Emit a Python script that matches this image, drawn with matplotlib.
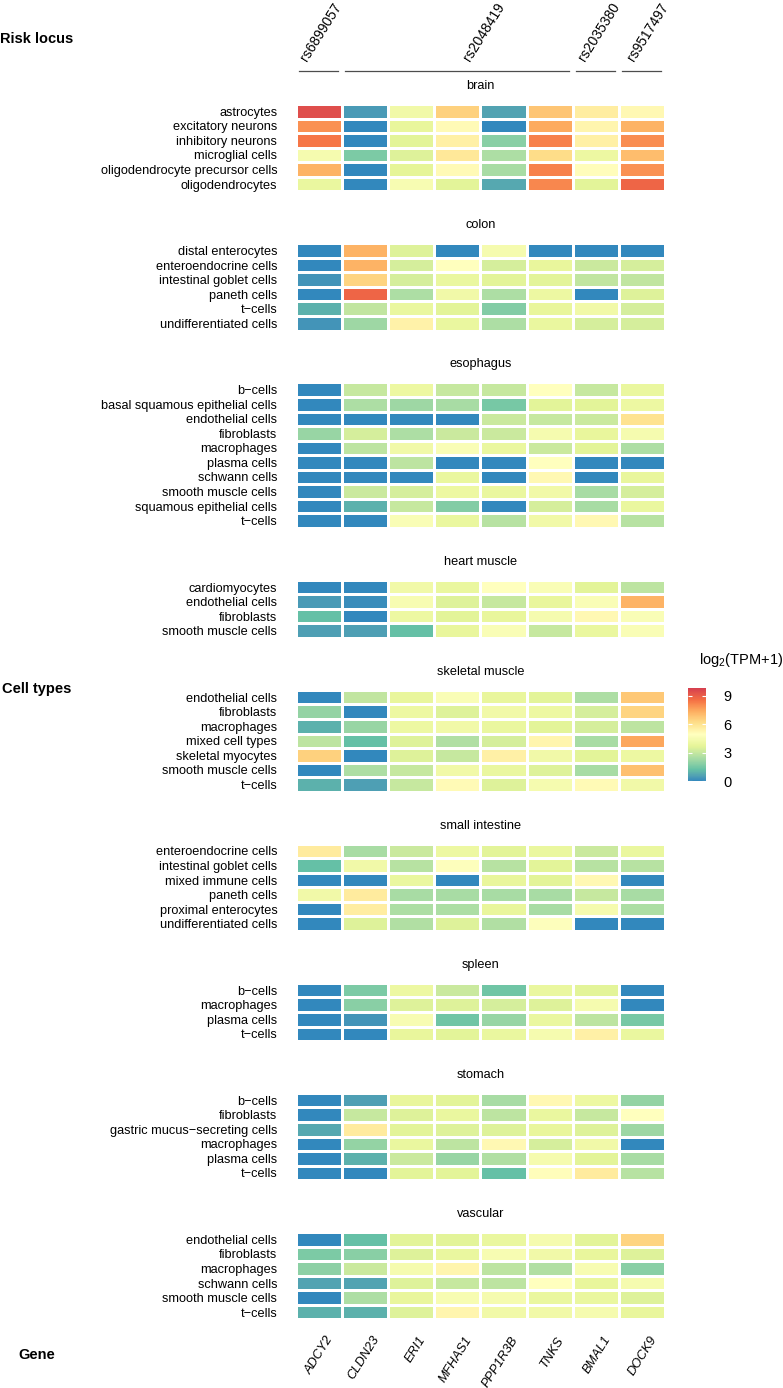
import numpy as np
import matplotlib
matplotlib.use("Agg")
import matplotlib.pyplot as plt
import matplotlib.transforms as mtransforms
from matplotlib.colors import ListedColormap, to_rgb

plt.rcParams['font.family'] = ['Liberation Sans', 'DejaVu Sans']
plt.rcParams['mathtext.default'] = 'regular'

# --- data ---
genes = ["ADCY2", "CLDN23", "ERI1", "MFHAS1", "PPP1R3B", "TNKS", "BMAL1", "DOCK9"]
loci = ["rs6899057", "rs2048419", "rs2035380", "rs9517497"]
locus_cols = [(0, 1), (1, 6), (6, 7), (7, 8)]   # gene column span of each locus

brain_cells = ["astrocytes", "excitatory neurons", "inhibitory neurons", "microglial cells",
               "oligodendrocyte precursor cells", "oligodendrocytes"]
brain_vals = [
    [9.4, 0.4, 4.2, 6.5, 0.6, 6.8, 5.6, 5.2],
    [7.9, 0.0, 3.8, 5.1, 0.0, 7.4, 5.3, 7.2],
    [8.4, 0.0, 3.6, 5.5, 1.8, 8.2, 5.5, 8.0],
    [4.4, 1.6, 3.5, 5.8, 2.5, 6.2, 4.0, 7.0],
    [7.2, 0.0, 3.7, 5.1, 2.4, 8.2, 5.0, 7.9],
    [3.9, 0.0, 4.5, 3.6, 0.7, 8.1, 3.6, 8.8],
]

colon_cells = ["distal enterocytes", "enteroendocrine cells", "intestinal goblet cells",
               "paneth cells", "t\u2212cells", "undifferentiated cells"]
colon_vals = [
    [0.0, 7.2, 3.5, 0.0, 4.4, 0.0, 0.0, 0.0],
    [0.0, 7.2, 3.3, 4.9, 3.3, 3.8, 3.1, 3.3],
    [0.3, 6.4, 3.3, 3.9, 3.6, 3.6, 2.9, 2.9],
    [0.0, 8.8, 2.5, 4.2, 2.5, 4.0, 0.0, 3.5],
    [0.9, 2.9, 3.9, 3.6, 1.7, 3.8, 4.2, 3.3],
    [0.3, 2.2, 5.4, 3.9, 2.5, 3.9, 3.3, 3.3],
]

esophagus_cells = ["b\u2212cells", "basal squamous epithelial cells", "endothelial cells", "fibroblasts",
                   "macrophages", "plasma cells", "schwann cells", "smooth muscle cells",
                   "squamous epithelial cells", "t\u2212cells"]
esophagus_vals = [
    [0.0, 3.0, 4.0, 3.0, 3.0, 4.9, 3.0, 3.9],
    [0.0, 2.5, 2.2, 2.4, 1.5, 3.6, 3.6, 4.0],
    [0.0, 0.0, 0.0, 0.0, 3.1, 3.0, 3.1, 6.0],
    [2.1, 3.3, 2.5, 3.1, 3.1, 4.4, 3.8, 4.4],
    [0.0, 2.8, 4.2, 4.6, 3.9, 3.1, 3.6, 2.5],
    [0.0, 0.0, 2.8, 0.0, 0.0, 4.9, 0.0, 0.0],
    [0.0, 0.0, 0.0, 3.9, 0.0, 5.2, 0.0, 3.8],
    [0.0, 3.1, 3.3, 4.0, 3.9, 4.2, 2.4, 3.3],
    [0.0, 0.9, 3.0, 1.7, 0.0, 3.3, 2.4, 3.9],
    [0.0, 0.0, 4.6, 3.9, 2.7, 4.2, 5.2, 2.7],
]

heart_cells = ["cardiomyocytes", "endothelial cells", "fibroblasts", "smooth muscle cells"]
heart_vals = [
    [0.0, 0.0, 4.2, 3.9, 4.9, 4.6, 3.6, 2.8],
    [0.4, 0.15, 4.5, 3.5, 3.0, 3.8, 4.6, 7.2],
    [1.2, 0.0, 4.0, 3.6, 3.8, 4.4, 5.2, 4.6],
    [0.5, 0.5, 1.2, 3.8, 4.6, 3.0, 3.9, 4.6],
]

skeletal_cells = ["endothelial cells", "fibroblasts", "macrophages", "mixed cell types",
                  "skeletal myocytes", "smooth muscle cells", "t\u2212cells"]
skeletal_vals = [
    [0.0, 2.9, 3.8, 4.6, 3.8, 3.6, 2.5, 6.7],
    [2.0, 0.0, 4.0, 3.5, 4.2, 4.0, 3.3, 6.4],
    [0.9, 2.1, 4.0, 4.2, 3.9, 3.6, 3.3, 2.8],
    [2.8, 1.2, 3.5, 2.6, 3.3, 5.3, 2.4, 7.5],
    [6.5, 0.0, 3.5, 3.0, 5.5, 4.2, 3.6, 4.0],
    [0.0, 2.5, 3.0, 4.2, 3.9, 3.5, 2.4, 6.9],
    [0.9, 0.5, 3.0, 5.1, 3.5, 4.4, 5.1, 4.2],
]

small_int_cells = ["enteroendocrine cells", "intestinal goblet cells", "mixed immune cells",
                   "paneth cells", "proximal enterocytes", "undifferentiated cells"]
small_int_vals = [
    [5.7, 2.4, 3.1, 4.0, 3.6, 3.9, 3.1, 3.9],
    [1.2, 4.2, 2.7, 4.8, 2.7, 3.6, 2.7, 2.7],
    [0.0, 0.0, 3.9, 0.0, 3.8, 3.6, 5.2, 0.0],
    [4.2, 5.7, 2.4, 2.4, 2.4, 2.4, 3.0, 2.4],
    [0.0, 5.6, 2.5, 2.5, 3.8, 2.4, 4.4, 2.5],
    [0.0, 3.5, 2.6, 3.5, 2.6, 4.8, 0.0, 0.0],
]

spleen_cells = ["b\u2212cells", "macrophages", "plasma cells", "t\u2212cells"]
spleen_vals = [
    [0.0, 1.6, 4.0, 3.1, 1.4, 3.9, 3.6, 0.0],
    [0.0, 1.8, 3.5, 3.5, 3.3, 3.5, 4.4, 0.0],
    [0.0, 0.3, 4.5, 1.4, 2.1, 3.9, 2.8, 1.5],
    [0.0, 0.0, 3.8, 3.6, 3.9, 4.4, 5.5, 3.9],
]

stomach_cells = ["b\u2212cells", "fibroblasts", "gastric mucus\u2212secreting cells", "macrophages",
                 "plasma cells", "t\u2212cells"]
stomach_vals = [
    [0.0, 0.5, 3.8, 3.6, 2.4, 5.2, 4.0, 2.0],
    [0.0, 3.0, 3.5, 3.9, 2.8, 3.9, 3.0, 4.9],
    [0.7, 5.7, 3.6, 3.5, 3.5, 3.8, 3.5, 2.2],
    [0.0, 2.0, 3.9, 2.8, 5.2, 3.3, 4.2, 0.0],
    [0.0, 0.9, 3.1, 2.1, 2.6, 4.4, 3.6, 2.4],
    [0.0, 0.0, 3.6, 3.6, 1.2, 5.0, 5.7, 2.7],
]

vascular_cells = ["endothelial cells", "fibroblasts", "macrophages", "schwann cells",
                  "smooth muscle cells", "t\u2212cells"]
vascular_vals = [
    [0.0, 1.2, 3.6, 3.6, 3.9, 4.4, 3.6, 6.4],
    [1.6, 1.8, 3.5, 3.9, 4.5, 4.2, 3.8, 3.5],
    [1.9, 3.1, 4.4, 5.3, 2.8, 2.6, 4.5, 1.8],
    [0.6, 0.6, 3.5, 3.0, 2.8, 4.9, 3.8, 4.4],
    [0.0, 2.5, 3.8, 4.5, 4.4, 3.9, 3.9, 3.5],
    [0.9, 0.9, 3.5, 5.3, 4.2, 4.2, 4.4, 3.8],
]

tissues = [
    ("brain", brain_cells, brain_vals),
    ("colon", colon_cells, colon_vals),
    ("esophagus", esophagus_cells, esophagus_vals),
    ("heart muscle", heart_cells, heart_vals),
    ("skeletal muscle", skeletal_cells, skeletal_vals),
    ("small intestine", small_int_cells, small_int_vals),
    ("spleen", spleen_cells, spleen_vals),
    ("stomach", stomach_cells, stomach_vals),
    ("vascular", vascular_cells, vascular_vals),
]

# --- layout (pixels) ---
W, H = 783, 1388
HM_LEFT, HM_WIDTH = 296, 369
ROW_H = 14.55
FIRST_TOP = 104
GAP = 51.9
VMIN, VMAX = 0, 9.8
FS = 9.2

ramp = ["#3288BD", "#66C2A5", "#ABDDA4", "#E6F598", "#FFFFBF",
        "#FEE08B", "#FDAE61", "#F46D43", "#D53E4F"]


# colour ramp interpolated in CIE Lab (like R's colorRamp2)
WHITE = np.array([0.95047, 1.0, 1.08883])
M = np.array([[0.4124, 0.3576, 0.1805],
              [0.2126, 0.7152, 0.0722],
              [0.0193, 0.1192, 0.9505]])


def to_lab(rgb):
    c = np.asarray(rgb, float)
    lin = np.where(c <= 0.04045, c / 12.92, ((c + 0.055) / 1.055) ** 2.4)
    xyz = M @ lin / WHITE
    f = np.where(xyz > 0.008856, np.cbrt(xyz), 7.787 * xyz + 16 / 116)
    return np.array([116 * f[1] - 16, 500 * (f[0] - f[1]), 200 * (f[1] - f[2])])


def from_lab(lab):
    fy = (lab[0] + 16) / 116
    fx = fy + lab[1] / 500
    fz = fy - lab[2] / 200
    f = np.array([fx, fy, fz])
    xyz = np.where(f ** 3 > 0.008856, f ** 3, (f - 16 / 116) / 7.787) * WHITE
    lin = np.linalg.solve(M, xyz)
    lin = np.clip(lin, 0, 1)
    c = np.where(lin <= 0.0031308, 12.92 * lin, 1.055 * lin ** (1 / 2.4) - 0.055)
    return np.clip(c, 0, 1)


labs = [to_lab(to_rgb(c)) for c in ramp]
cols = []
for t in np.linspace(0, 1, 256):
    pos = t * (len(ramp) - 1)
    i = min(int(pos), len(ramp) - 2)
    fr = pos - i
    cols.append(from_lab(labs[i] * (1 - fr) + labs[i + 1] * fr))
cmap = ListedColormap(cols)

fig = plt.figure(figsize=(W / 100, H / 100), dpi=100)

top = FIRST_TOP
axes = []
mesh = None
for name, cells, vals in tissues:
    n = len(cells)
    h = n * ROW_H
    ax = fig.add_axes([HM_LEFT / W, 1 - (top + h) / H, HM_WIDTH / W, h / H])
    mesh = ax.pcolormesh(np.array(vals), cmap=cmap, vmin=VMIN, vmax=VMAX,
                         edgecolors="white", linewidth=0.8)
    ax.set_xlim(0, len(genes))
    ax.set_ylim(n, 0)
    ax.set_yticks(np.arange(n) + 0.5)
    ax.set_yticklabels(cells, fontsize=FS)
    ax.set_xticks([])
    ax.tick_params(length=0, pad=13.5)
    for s in ax.spines.values():
        s.set_visible(False)
    ax.text(len(genes) / 2, -18 / ROW_H, name, ha="center", va="center",
            fontsize=FS, clip_on=False)
    axes.append(ax)
    top += h + GAP

# --- risk locus labels and brackets (on top axes) ---
ax0 = axes[0]
line_y = (71 - FIRST_TOP) / ROW_H
label_y = (64 - FIRST_TOP) / ROW_H
label_x = [0.30, 3.82, 6.33, 7.39]
for lab, (s, e), lx in zip(loci, locus_cols, label_x):
    ax0.plot([s + 0.06, e - 0.08], [line_y, line_y], color="#4d4d4d", lw=0.9,
             clip_on=False)
    ax0.text(lx, label_y, lab, rotation=58, rotation_mode="anchor",
             ha="left", va="bottom", fontsize=10, clip_on=False)

# --- gene labels (bottom axes) ---
axl = axes[-1]
axl.set_xticks(np.arange(len(genes)) + 0.5)
axl.set_xticklabels(genes, rotation=58, ha="right", va="top",
                    rotation_mode="anchor", fontstyle="italic", fontsize=FS)
axl.tick_params(axis="x", length=0, pad=10.5)
offset = mtransforms.ScaledTranslation(7 / 100, 0, fig.dpi_scale_trans)
for lbl in axl.get_xticklabels():
    lbl.set_transform(lbl.get_transform() + offset)

# --- side titles ---
for txt, y in [("Risk locus", 39), ("Cell types", 689), ("Gene", 1355)]:
    fig.text(37 / W, 1 - y / H, txt, ha="center", va="center",
             fontsize=10.5, fontweight="bold")

# --- colour legend ---
cax = fig.add_axes([688 / W, 1 - 781 / H, 18 / W, 93 / H])
cb = fig.colorbar(mesh, cax=cax)
cb.outline.set_visible(False)
cb.set_ticks([0, 3, 6, 9])
cax.tick_params(direction="in", color="white", length=3, width=0.8,
                left=True, right=True, labelsize=10.5, pad=12.5)
fig.text(699 / W, 1 - 660 / H, r"log$_2$(TPM+1)", ha="left", va="center",
         fontsize=10.5)

fig.savefig("out.png", dpi=100)
